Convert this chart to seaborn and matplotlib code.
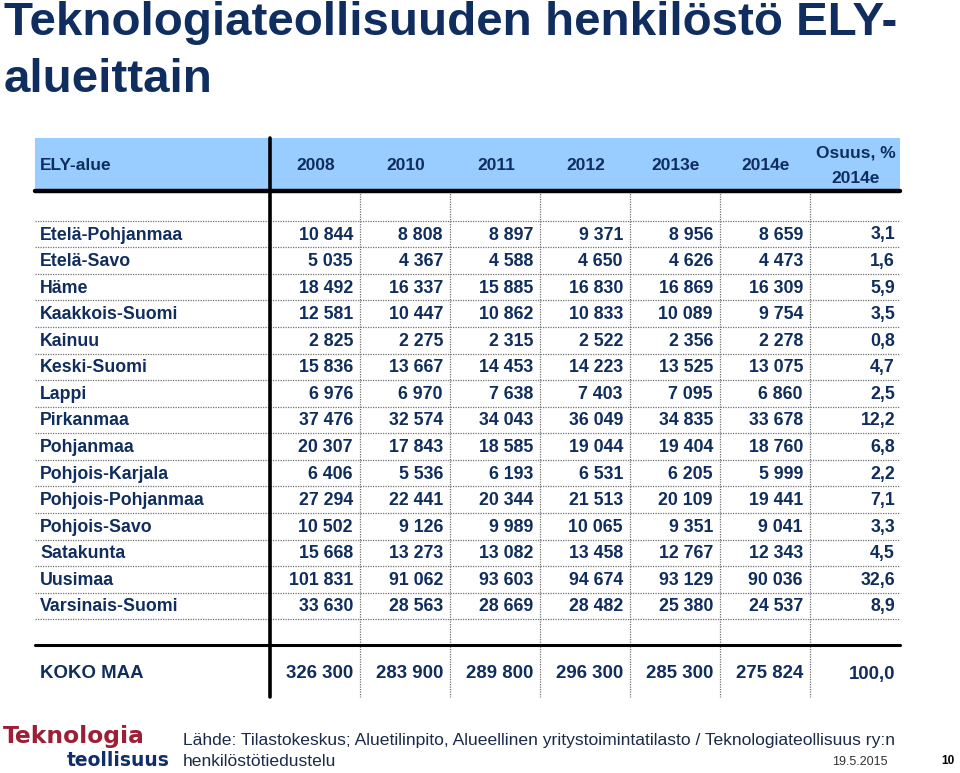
import matplotlib
matplotlib.use("Agg")
import matplotlib.pyplot as plt
import seaborn as sns

# table data
regions = ["Etelä-Pohjanmaa", "Etelä-Savo", "Häme", "Kaakkois-Suomi", "Kainuu",
           "Keski-Suomi", "Lappi", "Pirkanmaa", "Pohjanmaa", "Pohjois-Karjala",
           "Pohjois-Pohjanmaa", "Pohjois-Savo", "Satakunta", "Uusimaa", "Varsinais-Suomi"]
headers = ["2008", "2010", "2011", "2012", "2013e", "2014e", "Osuus, %\n2014e"]
v2008 = [10844, 5035, 18492, 12581, 2825, 15836, 6976, 37476, 20307, 6406, 27294, 10502, 15668, 101831, 33630]
v2010 = [8808, 4367, 16337, 10447, 2275, 13667, 6970, 32574, 17843, 5536, 22441, 9126, 13273, 91062, 28563]
v2011 = [8897, 4588, 15885, 10862, 2315, 14453, 7638, 34043, 18585, 6193, 20344, 9989, 13082, 93603, 28669]
v2012 = [9371, 4650, 16830, 10833, 2522, 14223, 7403, 36049, 19044, 6531, 21513, 10065, 13458, 94674, 28482]
v2013e = [8956, 4626, 16869, 10089, 2356, 13525, 7095, 34835, 19404, 6205, 20109, 9351, 12767, 93129, 25380]
v2014e = [8659, 4473, 16309, 9754, 2278, 13075, 6860, 33678, 18760, 5999, 19441, 9041, 12343, 90036, 24537]
share = [3.1, 1.6, 5.9, 3.5, 0.8, 4.7, 2.5, 12.2, 6.8, 2.2, 7.1, 3.3, 4.5, 32.6, 8.9]
total_label = "KOKO MAA"
totals = [326300, 283900, 289800, 296300, 285300, 275824]
total_share = 100.0

sns.set_theme(style="white")
SANS = ["Liberation Sans", "DejaVu Sans"]
NAVY = "#0f2d5e"

fig = plt.figure(figsize=(9.6, 7.73), dpi=100)
ax = fig.add_axes([0, 0, 1, 1])
ax.set_xlim(0, 960)
ax.set_ylim(773, 0)
ax.axis("off")

fmt = lambda n: f"{n:,}".replace(",", " ")
pct = lambda p: f"{p:.1f}".replace(".", ",")

# layout
left, right = 35, 900
split = 270
col_w = 90
head_top, head_bot = 138, 191
row0, row_h = 234, 26.57
thick_y = 645
total_y = 674
bottom = 697
col_edges = [split + col_w * (i + 1) for i in range(7)]

ax.text(4, 23, "Teknologiateollisuuden henkilöstö ELY-", fontsize=34.2, fontweight="bold",
        color=NAVY, family=SANS, va="center", ha="left")
ax.text(4, 80, "alueittain", fontsize=34.2, fontweight="bold",
        color=NAVY, family=SANS, va="center", ha="left")

# header band
ax.fill_between([left, right], head_top, head_bot, color="#99ccff", lw=0)
ax.text(40, 166, "ELY-alue", fontsize=12.5, fontweight="bold", color=NAVY,
        family=SANS, va="center", ha="left")
for i, h in enumerate(headers):
    cx = split + col_w * i + col_w / 2 + 1
    ax.text(cx, 166, h, fontsize=12.5, fontweight="bold", color=NAVY, family=SANS,
            va="center", ha="center", linespacing=1.85)

# grid lines
n = len(regions)
for i in range(n + 1):
    y = row0 - row_h / 2 + i * row_h
    ax.plot([left, right], [y, y], color="#707070", lw=0.9, ls=(0, (1, 1)))
for x in col_edges[:-1]:
    ax.plot([x, x], [head_bot, bottom], color="#707070", lw=0.9, ls=(0, (1, 1)))
ax.plot([left, right], [head_bot, head_bot], color="black", lw=3.2)
ax.plot([left, right], [thick_y, thick_y], color="black", lw=2.2)
ax.plot([split, split], [head_top, bottom], color="black", lw=2.6)

# body
cols = [v2008, v2010, v2011, v2012, v2013e, v2014e]
for i, name in enumerate(regions):
    y = row0 + i * row_h + 1
    ax.text(40, y, name, fontsize=12.8, fontweight="bold", color=NAVY, family=SANS,
            va="center", ha="left")
    for j, col in enumerate(cols):
        ax.text(col_edges[j] - 7, y, fmt(col[i]), fontsize=12.8, fontweight="bold",
                color=NAVY, family=SANS, va="center", ha="right")
    ax.text(col_edges[6] - 5, y, pct(share[i]), fontsize=12.8, fontweight="bold",
            color=NAVY, family=SANS, va="center", ha="right")

ax.text(40, total_y, total_label, fontsize=13.4, fontweight="bold", color=NAVY,
        family=SANS, va="center", ha="left")
for j, t in enumerate(totals):
    ax.text(col_edges[j] - 7, total_y, fmt(t), fontsize=13.4, fontweight="bold",
            color=NAVY, family=SANS, va="center", ha="right")
ax.text(col_edges[6] - 5, total_y, pct(total_share), fontsize=13.4, fontweight="bold",
        color=NAVY, family=SANS, va="center", ha="right")

# footer
ax.text(3, 737, "Teknologia", fontsize=16.8, fontweight="bold", color="#9c1f36",
        family=["DejaVu Sans"], va="center", ha="left")
ax.text(170, 761, "teollisuus", fontsize=13.5, fontweight="bold", color="#102e6a",
        family=["DejaVu Sans"], va="center", ha="right")
ax.text(183, 741, "Lähde: Tilastokeskus; Aluetilinpito, Alueellinen yritystoimintatilasto / "
        "Teknologiateollisuus ry:n", fontsize=12.6, color="#1a2a4a", family=SANS,
        va="center", ha="left")
ax.text(183, 761, "henkilöstötiedustelu", fontsize=12.6, color="#1a2a4a", family=SANS,
        va="center", ha="left")
ax.text(888, 762, "19.5.2015", fontsize=9, color="#333333", family=SANS, va="center", ha="right")
ax.text(955, 761, "10", fontsize=8.5, fontweight="bold", color="black", family=SANS,
        va="center", ha="right")

fig.savefig("out.png", dpi=100, facecolor="white")
